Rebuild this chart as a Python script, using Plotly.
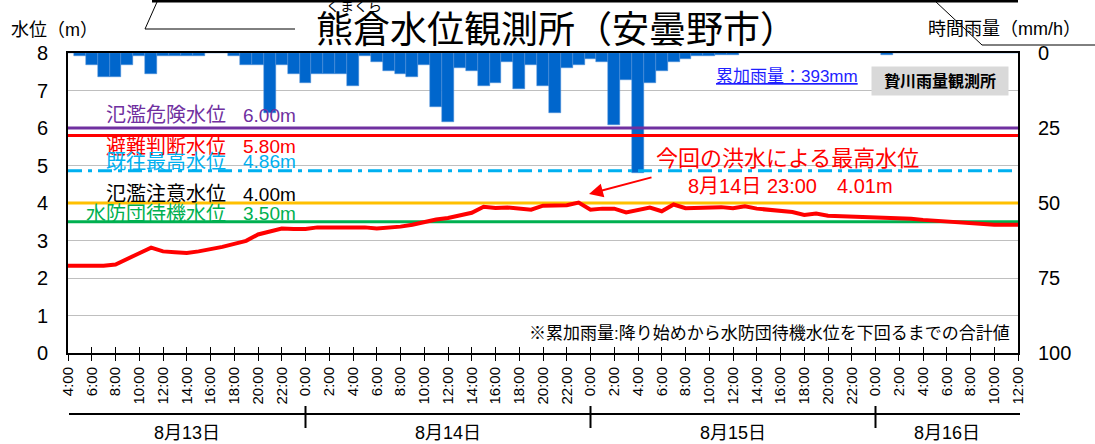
import plotly.graph_objects as go
import pandas as pd

# ---------------- data ----------------
start_time = "2021-08-13 04:00"
end_time = "2021-08-16 12:00"
times = pd.date_range(start_time, end_time, freq="h")  # 81 hourly points

rain_mm = [0, 1, 4, 8, 8, 4, 1, 7, 1, 1, 1, 1, 0, 0, 1, 4, 4, 20, 4, 7,
           10, 7, 7, 7, 11, 1, 3, 6, 7, 8, 4, 18, 23, 5, 6, 11, 10, 3, 12, 4,
           11, 20, 5, 4, 2, 3, 24, 9, 40, 10, 6, 3, 2, 1, 1, 0.5, 0.5, 0, 0, 0,
           0, 0, 0, 0, 0, 0, 0, 0, 0, 0.5, 0, 0, 0, 0, 0, 0, 0, 0, 0, 0, 0]

water_level_m = [2.33, 2.33, 2.31, 2.33, 2.36, 2.50, 2.66, 2.81, 2.71, 2.69,
                 2.67, 2.71, 2.76, 2.83, 2.91, 2.99, 3.16, 3.23, 3.32, 3.31,
                 3.31, 3.35, 3.36, 3.35, 3.35, 3.35, 3.32, 3.34, 3.37, 3.42,
                 3.50, 3.56, 3.60, 3.66, 3.74, 3.90, 3.87, 3.88, 3.86, 3.82,
                 3.93, 3.93, 3.94, 4.01, 3.82, 3.85, 3.85, 3.75, 3.82, 3.88,
                 3.78, 3.96, 3.86, 3.87, 3.88, 3.89, 3.86, 3.91, 3.85, 3.82,
                 3.79, 3.76, 3.68, 3.72, 3.66, 3.65, 3.64, 3.64, 3.62, 3.61,
                 3.60, 3.58, 3.55, 3.53, 3.50, 3.48, 3.46, 3.43, 3.42, 3.42,
                 3.42]

threshold_names = ["氾濫危険水位", "避難判断水位", "既往最高水位", "氾濫注意水位", "水防団待機水位"]
threshold_levels = [6.00, 5.80, 4.86, 4.00, 3.50]

total_rain_label = "累加雨量：393mm"
rain_station = "贄川雨量観測所"
title_text = "熊倉水位観測所（安曇野市）"
title_ruby = "くまくら"
note_text = "※累加雨量:降り始めから水防団待機水位を下回るまでの合計値"
peak_caption = "今回の洪水による最高水位"
rain_ticks = [0, 25, 50, 75, 100]

# ---------------- styles ----------------
FONT = "Arial, 'Liberation Sans', 'Noto Sans CJK JP', sans-serif"
line_colors = ["#7030A0", "#FF0000", "#00B0F0", "#FFC000", "#00B050"]
text_colors = ["#7030A0", "#FF0000", "#00B0F0", "#000000", "#00B050"]
line_dash = ["solid", "solid", "14px,6px,4px,6px", "solid", "solid"]
label_shift = [13, -11, 9, 9, 8]

L, R, T, B = 68, 77, 53, 91
W, H = 1095, 444
PW, PH = W - L - R, H - T - B


def px(x):
    return (x - L) / PW


def py(y):
    return (H - B - y) / PH


def txt(x, y, text, size, color="#000000", xanchor="center", **kw):
    d = dict(x=px(x), y=py(y), xref="paper", yref="paper", text=text, showarrow=False,
             xanchor=xanchor, yanchor="middle", font=dict(size=size, color=color, family=FONT))
    d.update(kw)
    return d


fig = go.Figure()

fig.add_trace(go.Bar(
    x=times, y=rain_mm, xaxis="x", yaxis="y",
    marker=dict(color="#0066CC", line=dict(color="#4F8FD8", width=0.5)),
    hoverinfo="skip",
))

for lvl, col, dash in zip(threshold_levels, line_colors, line_dash):
    fig.add_trace(go.Scatter(
        x=[times[0], times[-1]], y=[lvl, lvl], xaxis="x2", yaxis="y2",
        mode="lines", line=dict(color=col, width=3, dash=dash), hoverinfo="skip",
    ))

fig.add_trace(go.Scatter(
    x=times, y=water_level_m, xaxis="x2", yaxis="y2", mode="lines",
    line=dict(color="#FF0000", width=4), hoverinfo="skip",
))

annotations = []
for name, lvl, tc, sh in zip(threshold_names, threshold_levels, text_colors, label_shift):
    annotations.append(dict(x=px(228), y=lvl, xref="paper", yref="y2", yshift=sh,
                            text=name, showarrow=False, xanchor="right", yanchor="middle",
                            font=dict(size=20, color=tc, family=FONT)))
    annotations.append(dict(x=px(241), y=lvl, xref="paper", yref="y2", yshift=sh,
                            text=f"{lvl:.2f}m", showarrow=False, xanchor="left", yanchor="middle",
                            font=dict(size=19, color=tc, family=FONT)))

# peak annotation
imax = max(range(len(water_level_m)), key=lambda i: water_level_m[i])
tpk = times[imax]
peak_detail = f"{tpk.month}月{tpk.day}日 {tpk.hour}:{tpk.minute:02d}　{water_level_m[imax]:.2f}m"
annotations += [
    txt(787, 158, peak_caption, 22, "#FF0000"),
    txt(790, 186, peak_detail, 20, "#FF0000"),
    dict(x=px(589), y=py(194), xref="paper", yref="paper", text="", showarrow=True,
         ax=64, ay=-17, arrowcolor="#FF0000", arrowwidth=2, arrowhead=2, arrowsize=1.4),
]

# rain texts
annotations += [
    txt(787, 76, f"<u>{total_rain_label}</u>", 17, "#1F1FFF"),
    txt(940, 81, f"<b>{rain_station}</b>", 16, bgcolor="#D9D9D9", width=134, height=26),
    txt(1012, 333, note_text, 17, xanchor="right"),
]

# titles
annotations += [
    txt(556, 30, title_text, 37),
    txt(354, 6, title_ruby, 14),
    txt(9, 30, "水位（m）", 18, xanchor="left"),
    txt(926, 29, "時間雨量（mm/h）", 18, xanchor="left"),
]

# date labels under the time axis
t0, t1 = times[0], times[-1]
days = pd.date_range(t0.normalize(), t1.normalize(), freq="D")
for d in days:
    a = max(d, t0)
    b = min(d + pd.Timedelta(days=1), t1)
    annotations.append(dict(x=a + (b - a) / 2, y=py(433), xref="x", yref="paper",
                            xanchor="center", yanchor="middle",
                            text=f"{d.month}月{d.day}日", showarrow=False,
                            font=dict(size=18, color="#000000", family=FONT)))

shapes = [
    dict(type="line", xref="paper", yref="paper", x0=px(69), x1=px(1020), y0=py(414), y1=py(414),
         line=dict(color="#000000", width=2)),
]
for d in days[1:]:
    shapes.append(dict(type="line", xref="x", yref="paper", x0=d, x1=d, y0=py(406), y1=py(428),
                       line=dict(color="#000000", width=2)))

# title decoration
shapes += [
    dict(type="line", xref="paper", yref="paper", x0=px(152), x1=px(1018), y0=py(1), y1=py(1),
         line=dict(color="#000000", width=3)),
    dict(type="line", xref="paper", yref="paper", x0=px(157), x1=px(145), y0=py(2), y1=py(29),
         line=dict(color="#000000", width=1)),
    dict(type="line", xref="paper", yref="paper", x0=px(145), x1=px(295), y0=py(29), y1=py(29),
         line=dict(color="#000000", width=1)),
    dict(type="line", xref="paper", yref="paper", x0=px(935), x1=px(982), y0=py(1), y1=py(45),
         line=dict(color="#000000", width=1)),
    dict(type="line", xref="paper", yref="paper", x0=px(982), x1=px(1095), y0=py(45), y1=py(45),
         line=dict(color="#000000", width=1)),
]

xrange = [times[0], times[-1]]
tick_ms = 2 * 3600 * 1000

fig.update_layout(
    template="none",
    width=W, height=H,
    margin=dict(l=L, r=R, t=T, b=B, pad=0),
    paper_bgcolor="white", plot_bgcolor="white",
    showlegend=False, bargap=0,
    font=dict(family=FONT, color="#000000"),
    xaxis=dict(type="date", range=xrange, tick0=times[0], dtick=tick_ms, tickformat="%-H:%M",
               tickangle=-90, ticks="outside", ticklen=6, tickwidth=1, tickcolor="#000000",
               showline=True, linewidth=2, linecolor="#000000", mirror=True, showgrid=False,
               zeroline=False, automargin=False,
               tickfont=dict(size=15, family=FONT), anchor="y"),
    xaxis2=dict(type="date", range=xrange, tick0=times[0], dtick=tick_ms, overlaying="x",
                ticks="inside", ticklen=6, tickwidth=1, tickcolor="#000000", automargin=False,
                showticklabels=False, showline=False, showgrid=False, zeroline=False,
                anchor="y2", side="bottom"),
    yaxis=dict(range=[100, 0], tickvals=rain_ticks, side="right", showgrid=False,
               showline=True, linewidth=2, linecolor="#000000", ticks="", zeroline=False,
               automargin=False,
               ticklabelstandoff=14, tickfont=dict(size=20, family=FONT), anchor="x"),
    yaxis2=dict(range=[0, 8], dtick=1, overlaying="y", side="left", showgrid=True,
                gridcolor="#BFBFBF", gridwidth=1, showline=True, linewidth=2,
                linecolor="#000000", ticks="", zeroline=False, ticklabelstandoff=14,
                automargin=False,
                tickfont=dict(size=20, family=FONT), anchor="x2"),
    annotations=annotations,
    shapes=shapes,
)

fig.write_html("out.html", config={"displayModeBar": False},
               post_script="document.body.style.margin='0';")
